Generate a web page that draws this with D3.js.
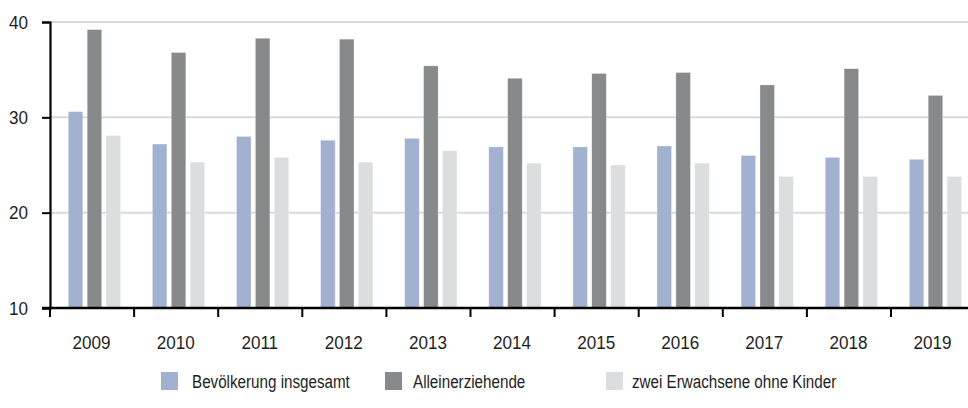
<!DOCTYPE html>
<html>
<head>
<meta charset="utf-8">
<script src="https://cdn.jsdelivr.net/npm/d3@7"></script>
<style>
  body { margin: 0; background: #fff; }
  svg text { font-family: "Liberation Sans", Arial, sans-serif; fill: #1e1e1e; }
</style>
</head>
<body>
<svg id="vis" width="968" height="408"></svg>
<script>
const years = ["2009", "2010", "2011", "2012", "2013", "2014", "2015", "2016", "2017", "2018", "2019"];
const seriesNames = ["Bevölkerung insgesamt", "Alleinerziehende", "zwei Erwachsene ohne Kinder"];
const bevoelkerung = [30.6, 27.2, 28.0, 27.6, 27.8, 26.9, 26.9, 27.0, 26.0, 25.8, 25.6];
const alleinerziehende = [39.2, 36.8, 38.3, 38.2, 35.4, 34.1, 34.6, 34.7, 33.4, 35.1, 32.3];
const zweiErwachsene = [28.1, 25.3, 25.8, 25.3, 26.5, 25.2, 25.0, 25.2, 23.8, 23.8, 23.8];
const yTicks = [10, 20, 30, 40];
const colors = ["#a2b1cf", "#88898b", "#dcdddf"];

const seriesValues = [bevoelkerung, alleinerziehende, zweiErwachsene];
const rows = years.map((year, i) => ({
    year,
    values: seriesNames.map((name, s) => ({ name, s, value: seriesValues[s][i] }))
}));

const svg = d3.select("svg#vis");
const m = { left: 50, top: 22, bottom: 308, right: 968 };

const x = d3.scaleBand().domain(years).range([m.left, m.left + 11 * 84.1]).padding(0);
const xInner = d3.scaleBand().domain(seriesNames).range([18.3, 70.6]).paddingInner(0.23);
const y = d3.scaleLinear().domain([10, 40]).range([m.bottom, m.top]);

// gridlines
svg.append("g")
    .selectAll("line")
    .data(yTicks.filter(d => d > 10))
    .enter()
    .append("line")
    .attr("x1", m.left)
    .attr("x2", m.right)
    .attr("y1", d => y(d))
    .attr("y2", d => y(d))
    .attr("stroke", "#d9d9d9")
    .attr("stroke-width", 2);

// bars
let groups = svg.append("g")
    .selectAll("g")
    .data(rows)
    .enter()
    .append("g")
    .attr("transform", d => `translate(${x(d.year)},0)`);

groups.selectAll("rect")
    .data(d => d.values)
    .enter()
    .append("rect")
    .attr("x", d => xInner(d.name))
    .attr("width", xInner.bandwidth())
    .attr("y", d => y(d.value))
    .attr("height", d => y(10) - y(d.value))
    .attr("fill", d => colors[d.s])
    .attr("stroke", "#ffffff")
    .attr("stroke-opacity", 0.5)
    .attr("stroke-width", 0.6);

// y axis
const yAxis = svg.append("g")
    .attr("transform", `translate(${m.left},0)`)
    .call(d3.axisLeft(y).tickValues(yTicks).tickSize(8).tickFormat(""));
yAxis.select(".domain").attr("stroke", "#000").attr("stroke-width", 2.2);
yAxis.selectAll(".tick line").attr("stroke", "#000").attr("stroke-width", 2);
svg.append("g")
    .selectAll("text")
    .data(yTicks)
    .enter()
    .append("text")
    .attr("transform", d => `translate(28,${y(d)}) scale(0.9,1)`)
    .attr("dy", "0.35em")
    .attr("text-anchor", "end")
    .attr("font-size", 19)
    .text(d => d);

// x axis
const xAxis = svg.append("g")
    .attr("transform", `translate(0,${m.bottom})`);
xAxis.append("line")
    .attr("x1", m.left - 8)
    .attr("x2", m.right)
    .attr("stroke", "#000")
    .attr("stroke-width", 2.4);
xAxis.selectAll("line.tick")
    .data(years)
    .enter()
    .append("line")
    .attr("class", "tick")
    .attr("x1", d => x(d))
    .attr("x2", d => x(d))
    .attr("y1", 0)
    .attr("y2", 9)
    .attr("stroke", "#000")
    .attr("stroke-width", 2);
xAxis.selectAll("text")
    .data(years)
    .enter()
    .append("text")
    .attr("transform", d => `translate(${x(d) + x.bandwidth() / 2 - 0.5},41) scale(0.9,1)`)
    .attr("text-anchor", "middle")
    .attr("font-size", 19)
    .text(d => d);

// legend
const legendX = [161, 385, 606];
const legend = svg.append("g")
    .selectAll("g")
    .data(seriesNames)
    .enter()
    .append("g")
    .attr("transform", (d, i) => `translate(${legendX[i]},372)`);
legend.append("rect")
    .attr("width", 17)
    .attr("height", 18)
    .attr("fill", (d, i) => colors[i]);
legend.append("text")
    .attr("transform", (d, i) => `translate(${[31, 28, 26][i]},16) scale(0.8,1)`)
    .attr("font-size", 19)
    .text(d => d);
</script>
</body>
</html>
